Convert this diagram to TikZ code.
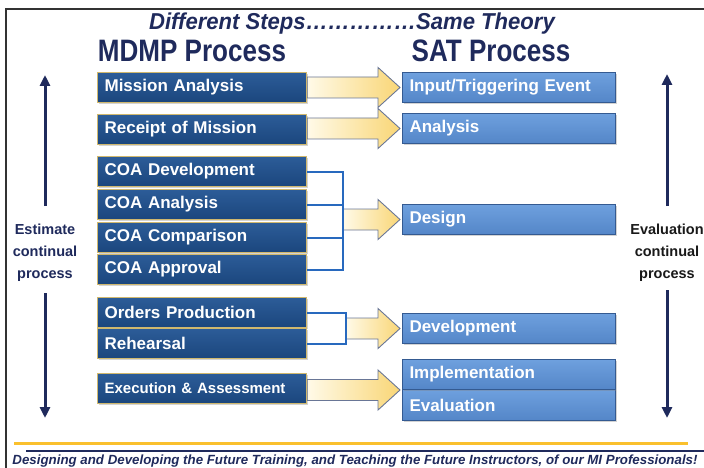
\documentclass[tikz,border=0pt]{standalone}
\usepackage{fontspec}
\setmainfont{Liberation Sans}
\usetikzlibrary{calc,shadows,arrows.meta}
\definecolor{navy}{RGB}{31,42,92}
\definecolor{mdmptop}{RGB}{44,92,152}
\definecolor{mdmpbot}{RGB}{27,70,125}
\definecolor{mdmpborder}{RGB}{208,184,110}
\definecolor{sattop}{RGB}{110,160,222}
\definecolor{satbot}{RGB}{84,134,200}
\definecolor{satborder}{RGB}{52,90,145}
\definecolor{arrowcream}{RGB}{255,250,232}
\definecolor{arrowyellow}{RGB}{249,214,118}
\definecolor{arrowline}{RGB}{105,118,150}
\definecolor{bracketblue}{RGB}{40,105,190}
\definecolor{goldline}{RGB}{250,192,45}
\pgfdeclarelayer{bg}
\pgfsetlayers{bg,main}
\tikzset{
  mdmp/.style={draw=mdmpborder, line width=1.2pt, top color=mdmptop, bottom color=mdmpbot,
    anchor=north west, minimum height=30pt, text width=195pt, inner xsep=7pt, inner ysep=0pt,
    align=left, text=white, font=\bfseries\fontsize{17}{17}\selectfont,
    drop shadow={shadow xshift=1.5pt, shadow yshift=-1.5pt, opacity=0.35}},
  sat/.style={draw=satborder, line width=1pt, top color=sattop, bottom color=satbot,
    anchor=north west, minimum height=30pt, text width=199pt, inner xsep=7pt, inner ysep=0pt,
    align=left, text=white, font=\bfseries\fontsize{17}{17}\selectfont,
    drop shadow={shadow xshift=1.5pt, shadow yshift=-1.5pt, opacity=0.35}},
  blockarrow/.style={draw=arrowline, line width=0.9pt, left color=arrowcream, right color=arrowyellow, line join=miter},
  bracket/.style={draw=bracketblue, line width=2pt},
  varrow/.style={draw=navy, line width=3pt, -{Triangle[length=11pt,width=10pt]}},
  sidetext/.style={align=center, font=\bfseries\fontsize{14.5}{22}\selectfont},
  frame/.style={draw=black!80, line width=1.3pt}
}
\newcommand{\blkarrow}[2]{%
  \begin{pgfonlayer}{bg}
  \path[blockarrow] let \p1=(#1), \p2=(#2) in
    (\x1,\y2+10.5pt) -- (\x2-22pt,\y2+10.5pt) -- (\x2-22pt,\y2+20pt) -- (\x2,\y2)
    -- (\x2-22pt,\y2-20pt) -- (\x2-22pt,\y2-10.5pt) -- (\x1,\y2-10.5pt) -- cycle;
  \end{pgfonlayer}}
\begin{document}
\begin{tikzpicture}[x=1pt,y=-1pt]
\useasboundingbox (0,0) rectangle (704,468);
% frame
\draw[frame] (6,468) -- (6,9) -- (704,9);
% titles
\node[text=navy, font=\bfseries\itshape\fontsize{23}{23}\selectfont] (title) at (352,23.5)
  {\scalebox{0.96}[1]{Different Steps……………Same Theory}};
\node[text=navy, font=\bfseries\fontsize{31}{31}\selectfont] (hm) at (192,51)
  {\scalebox{0.84}[1]{MDMP Process}};
\node[text=navy, font=\bfseries\fontsize{31}{31}\selectfont] (hs) at (491,51)
  {\scalebox{0.84}[1]{SAT Process}};
% MDMP boxes
\node[mdmp] (m1) at (97,72) {Mission Analysis};
\node[mdmp] (m2) at (97,114) {Receipt of Mission};
\node[mdmp] (m3) at (97,156) {COA Development};
\node[mdmp] (m4) at (97,189) {COA Analysis};
\node[mdmp] (m5) at (97,222) {COA Comparison};
\node[mdmp] (m6) at (97,254) {COA Approval};
\node[mdmp] (m7) at (97,297) {Orders Production};
\node[mdmp] (m8) at (97,328) {Rehearsal};
\node[mdmp, font=\bfseries\fontsize{15}{15}\selectfont] (m9) at (97,373) {Execution \& Assessment};
% SAT boxes
\node[sat] (s1) at (402,72) {Input/Triggering Event};
\node[sat] (s2) at (402,113) {Analysis};
\node[sat] (s3) at (402,204) {Design};
\node[sat] (s4) at (402,313) {Development};
\node[sat, minimum height=31pt] (s6) at (402,389) {Evaluation};
\node[sat] (s5) at (402,359) {Implementation};
% brackets
\coordinate (b1) at (343,219);
\coordinate (b2) at (346,328);
\draw[bracket] (m3.east) -| (b1 |- m6.east) -- (m6.east);
\draw[bracket] (m4.east) -- (b1 |- m4.east);
\draw[bracket] (m5.east) -- (b1 |- m5.east);
\draw[bracket] (m7.east) -| (b2 |- m8.east) -- (m8.east);
% block arrows
\coordinate (t1) at ([xshift=-2pt]s1.west);
\coordinate (t2) at ([xshift=-2pt]s2.west);
\coordinate (t3) at ([xshift=-2pt]s3.west);
\coordinate (t4) at ([xshift=-2pt]s4.west);
\coordinate (t5) at ([xshift=-2pt]s5.south west);
\blkarrow{m1.east}{t1}
\blkarrow{m2.east}{t2}
\blkarrow{b1}{t3}
\blkarrow{b2}{t4}
\blkarrow{m9.east}{t5}
% side arrows and texts
\node[sidetext, text=navy] (lt) at (45,253) {Estimate\\continual\\process};
\node[sidetext, text=black!90] (rt) at (667,253) {Evaluation\\continual\\process};
\coordinate (la1) at (45,206); \coordinate (la2) at (45,75);
\coordinate (la3) at (45,293); \coordinate (la4) at (45,418);
\coordinate (ra1) at (667,206); \coordinate (ra2) at (667,74);
\coordinate (ra3) at (667,290); \coordinate (ra4) at (667,418);
\draw[varrow] (la1) -- (la2);
\draw[varrow] (la3) -- (la4);
\draw[varrow] (ra1) -- (ra2);
\draw[varrow] (ra3) -- (ra4);
% bottom lines and text
\coordinate (g1) at (14,443); \coordinate (g2) at (688,443);
\coordinate (n1) at (26,451); \coordinate (n2) at (704,451);
\draw[goldline, line width=3pt] (g1) -- (g2);
\draw[navy, line width=2.2pt] (n1) -- (n2);
\node[text=navy, font=\bfseries\itshape\fontsize{13.3}{13.3}\selectfont] (foot) at (355,461)
  {Designing and Developing the Future Training, and Teaching the Future Instructors, of our MI Professionals!};
\end{tikzpicture}
\end{document}
